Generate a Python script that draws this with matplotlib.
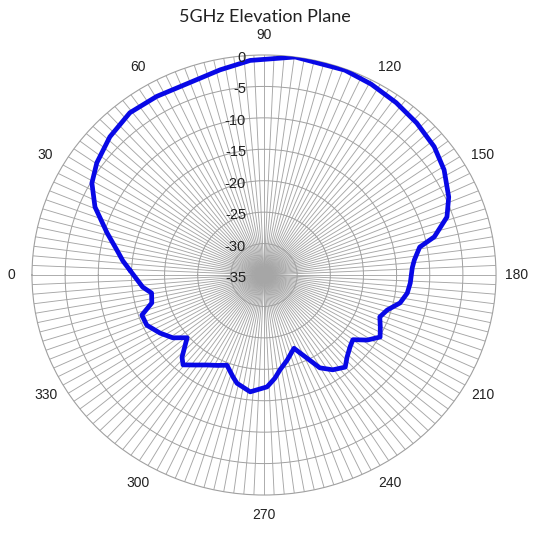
import numpy as np
import matplotlib
matplotlib.use('Agg')
from matplotlib import pyplot as plt
from matplotlib.transforms import offset_copy

angles_deg = [2, 6, 10, 15.8, 23, 29.4, 35.3, 43.4, 51.9, 60.3, 70, 78.5, 86.5,
              97.7, 110.5, 118, 126, 133.6, 141.5, 148.4, 156, 161.5, 166.7,
              169.3, 174, 177, 183.3, 187.6, 192.2, 196.7, 200.9, 205.3, 209.4,
              213.6, 217.5, 221.4, 226.2, 230.1, 235.5, 240.3, 246.4, 248.8,
              255.6, 261, 264.3, 268.5, 276.4, 283.3, 286, 291.3, 296, 301,
              306, 310.5, 313.4, 319.3, 324, 329.5, 335.7, 340.9, 345.3,
              350.4, 354]
gain_db = [-14.8, -13.6, -12.5, -10.4, -7.3, -5.2, -4.1, -3.0, -2.2, -2.3, -2.4,
           -1.7, -0.8, 0.0, -0.2, -0.6, -1.1, -1.6, -2.2, -3.1, -4.5, -5.9,
           -8.6, -11.1, -12.2, -12.6, -12.9, -13.2, -14.0, -15.6, -16.3, -15.6,
           -14.9, -16.3, -18.1, -17.7, -16.9, -15.9, -16.7, -18.0, -21.5,
           -22.5, -21.0, -19.7, -18.5, -17.2, -16.3, -17.3, -18.1, -19.6,
           -19.0, -18.3, -17.3, -16.2, -17.0, -19.7, -18.0, -16.8, -15.6,
           -15.5, -17.5, -17.8, -16.6]

angle_ticks = list(range(0, 360, 30))
angle_labels = [str(a) for a in angle_ticks]
ring_values = [0, -5, -10, -15, -20, -25, -30, -35]

plt.rcParams['font.family'] = 'Liberation Sans'

fig = plt.figure(figsize=(5.34, 5.34), dpi=100)
ax = fig.add_axes([0.0599, 0.073, 0.869, 0.824], projection='polar')
ax.set_aspect('auto')
ax.set_theta_zero_location('W')
ax.set_theta_direction(-1)
ax.set_ylim(-35, 0)

# spokes every 2.5 degrees, labels every 30
ax.set_xticks(np.deg2rad(angle_ticks))
ax.set_xticklabels(angle_labels)
ax.set_xticks(np.deg2rad(np.arange(0, 360, 2.5)), minor=True)
ax.grid(True, which='both', axis='x', color='#a6a6a6', lw=0.65)
ax.tick_params(axis='x', which='both', length=0, pad=7.5,
               labelsize=10, labelcolor='#222222')

ax.set_yticks([v for v in ring_values if -35 < v < 0])
ax.set_yticklabels([])
ax.grid(True, axis='y', color='#a0a0a0', lw=0.7)
ax.tick_params(axis='y', length=0)
ax.spines['polar'].set_color('#a0a0a0')
ax.spines['polar'].set_linewidth(0.8)

trans = offset_copy(ax.transData, fig=fig, x=-18, y=-3, units='dots')
for v in ring_values:
    ax.text(np.pi / 2, v, str(v), transform=trans, ha='right', va='center',
            fontsize=10.5, color='#222222', zorder=6)

theta = np.deg2rad(angles_deg + [angles_deg[0] + 360])
ax.plot(theta, gain_db + [gain_db[0]], color='#0808e6', lw=3.4,
        solid_joinstyle='round', solid_capstyle='round', zorder=5)

fig.text(0.496, 1 - 17 / 534, '5GHz Elevation Plane', ha='center', va='center',
         fontsize=13, family='Lato', color='#222222')

plt.savefig('out.png', dpi=100)
